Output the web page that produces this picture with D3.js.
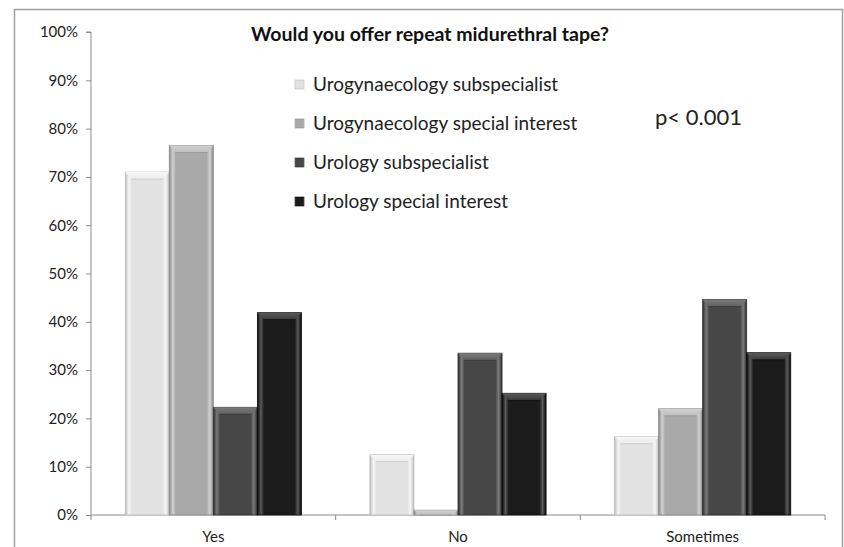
<!DOCTYPE html>
<html>
<head>
<meta charset="utf-8">
<script src="https://cdn.jsdelivr.net/npm/d3@7"></script>
<style>
  html, body { margin: 0; padding: 0; background: #fff; }
  svg { display: block; }
</style>
</head>
<body>
<svg id="chart" width="844" height="547"></svg>
<script>
const categories = ["Yes", "No", "Sometimes"];
const seriesNames = [
  "Urogynaecology subspecialist",
  "Urogynaecology special interest",
  "Urology subspecialist",
  "Urology special interest"
];
const urogynSub      = [71, 12.5, 16.2];
const urogynSpecial  = [76.5, 1, 22];
const urologySub     = [22.3, 33.5, 44.6];
const urologySpecial = [41.9, 25.2, 33.6];
const yTicks = [0, 10, 20, 30, 40, 50, 60, 70, 80, 90, 100];
const seriesValues = [urogynSub, urogynSpecial, urologySub, urologySpecial];
const colors = ["#e2e2e2", "#a9a9a9", "#474747", "#1b1b1b"];
const lighter = ["#f6f6f6", "#d2d2d2", "#7a7a7a", "#5a5a5a"];
const darker = ["#bdbdbd", "#8a8a8a", "#2e2e2e", "#080808"];

const svg = d3.select("#chart");
const fontFam = "Lato, 'Open Sans', 'Liberation Sans', sans-serif";

// outer frame
svg.append("rect").attr("x", 14.5).attr("y", 9.5).attr("width", 828).attr("height", 560)
  .attr("fill", "none").attr("stroke", "#a0a0a0").attr("stroke-width", 1.5);

const pLeft = 91, pRight = 825, pTop = 32, pBottom = 515;
const y = d3.scaleLinear().domain([0, 100]).range([pBottom, pTop]);
const x0 = d3.scaleBand().domain(categories).range([pLeft, pRight]).paddingInner(0.28).paddingOuter(0.14);
const x1 = d3.scaleBand().domain(d3.range(seriesNames.length)).range([0, x0.bandwidth()]).padding(0);

// y axis
const yAxis = svg.append("g").attr("transform", `translate(${pLeft},0)`)
  .call(d3.axisLeft(y).tickValues(yTicks).tickFormat(d => d + "%").tickSize(5).tickPadding(8));
yAxis.select(".domain").attr("stroke", "#8c8c8c").attr("d", `M-5,${pTop}H0V${pBottom}`);
yAxis.selectAll(".tick line").attr("stroke", "#8c8c8c");
yAxis.selectAll("text").attr("font-family", fontFam).attr("font-size", 15).attr("fill", "#222");

// x axis
const xAxisG = svg.append("g").attr("transform", `translate(0,${pBottom})`);
xAxisG.append("line").attr("x1", pLeft).attr("x2", pRight).attr("y1", 0).attr("y2", 0).attr("stroke", "#8c8c8c");
const boundaries = [pLeft, ...categories.map(c => x0(c) + x0.bandwidth() + x0.step() * 0.14)];
xAxisG.selectAll(".bt").data(boundaries).enter().append("line")
  .attr("x1", d => d).attr("x2", d => d).attr("y1", 0).attr("y2", 5).attr("stroke", "#8c8c8c");
xAxisG.selectAll(".cl").data(categories).enter().append("text")
  .attr("x", d => x0(d) + x0.bandwidth() / 2).attr("y", 27)
  .attr("text-anchor", "middle").attr("font-family", fontFam).attr("font-size", 15).attr("fill", "#222")
  .text(d => d);

// defs: gradients for bevels
const defs = svg.append("defs");
colors.forEach((c, i) => {
  const g = defs.append("linearGradient").attr("id", "side" + i).attr("x1", 0).attr("x2", 1).attr("y1", 0).attr("y2", 0);
  g.append("stop").attr("offset", 0).attr("stop-color", darker[i]);
  g.append("stop").attr("offset", 0.08).attr("stop-color", lighter[i]);
  g.append("stop").attr("offset", 0.15).attr("stop-color", c);
  g.append("stop").attr("offset", 0.85).attr("stop-color", c);
  g.append("stop").attr("offset", 0.92).attr("stop-color", lighter[i]);
  g.append("stop").attr("offset", 1).attr("stop-color", darker[i]);
  const t = defs.append("linearGradient").attr("id", "top" + i).attr("x1", 0).attr("x2", 0).attr("y1", 0).attr("y2", 1);
  t.append("stop").attr("offset", 0).attr("stop-color", lighter[i]);
  t.append("stop").attr("offset", 1).attr("stop-color", d3.interpolateRgb(lighter[i], c)(0.5));
});

// bars
const groups = svg.append("g").selectAll("g").data(categories).enter().append("g")
  .attr("transform", d => `translate(${x0(d)},0)`);
groups.each(function(cat, ci) {
  const g = d3.select(this);
  seriesValues.forEach((vals, si) => {
    const bx = x1(si), bw = x1.bandwidth(), by = y(vals[ci]), bh = pBottom - by;
    g.append("rect").attr("x", bx).attr("y", by).attr("width", bw).attr("height", bh)
      .attr("fill", `url(#side${si})`).attr("stroke", darker[si]).attr("stroke-width", 0.8);
    const bev = Math.min(7, bh);
    const ins = Math.min(6, bw / 2);
    g.append("path")
      .attr("d", `M${bx},${by}H${bx + bw}L${bx + bw - ins},${by + bev}H${bx + ins}Z`)
      .attr("fill", `url(#top${si})`);
    g.append("line").attr("x1", bx + ins).attr("x2", bx + bw - ins)
      .attr("y1", by + bev).attr("y2", by + bev).attr("stroke", darker[si]).attr("stroke-width", 0.6);
  });
});

// title
svg.append("text").attr("x", 430).attr("y", 41).attr("text-anchor", "middle")
  .attr("font-family", fontFam).attr("font-weight", "bold").attr("font-size", 19.5).attr("fill", "#111")
  .text("Would you offer repeat midurethral tape?");

// legend
const legend = svg.append("g");
const legRows = [85, 124, 163, 202];
seriesNames.forEach((name, i) => {
  legend.append("rect").attr("x", 295).attr("y", legRows[i] - 5).attr("width", 9).attr("height", 9)
    .attr("fill", `url(#side${i})`).attr("stroke", darker[i]).attr("stroke-width", 0.6);
  legend.append("text").attr("x", 313).attr("y", legRows[i] + 6)
    .attr("font-family", fontFam).attr("font-size", 19).attr("fill", "#222").text(name);
});

// p-value
svg.append("text").attr("x", 655).attr("y", 125)
  .attr("font-family", fontFam).attr("font-size", 22).attr("fill", "#222").text("p< 0.001");
</script>
</body>
</html>
